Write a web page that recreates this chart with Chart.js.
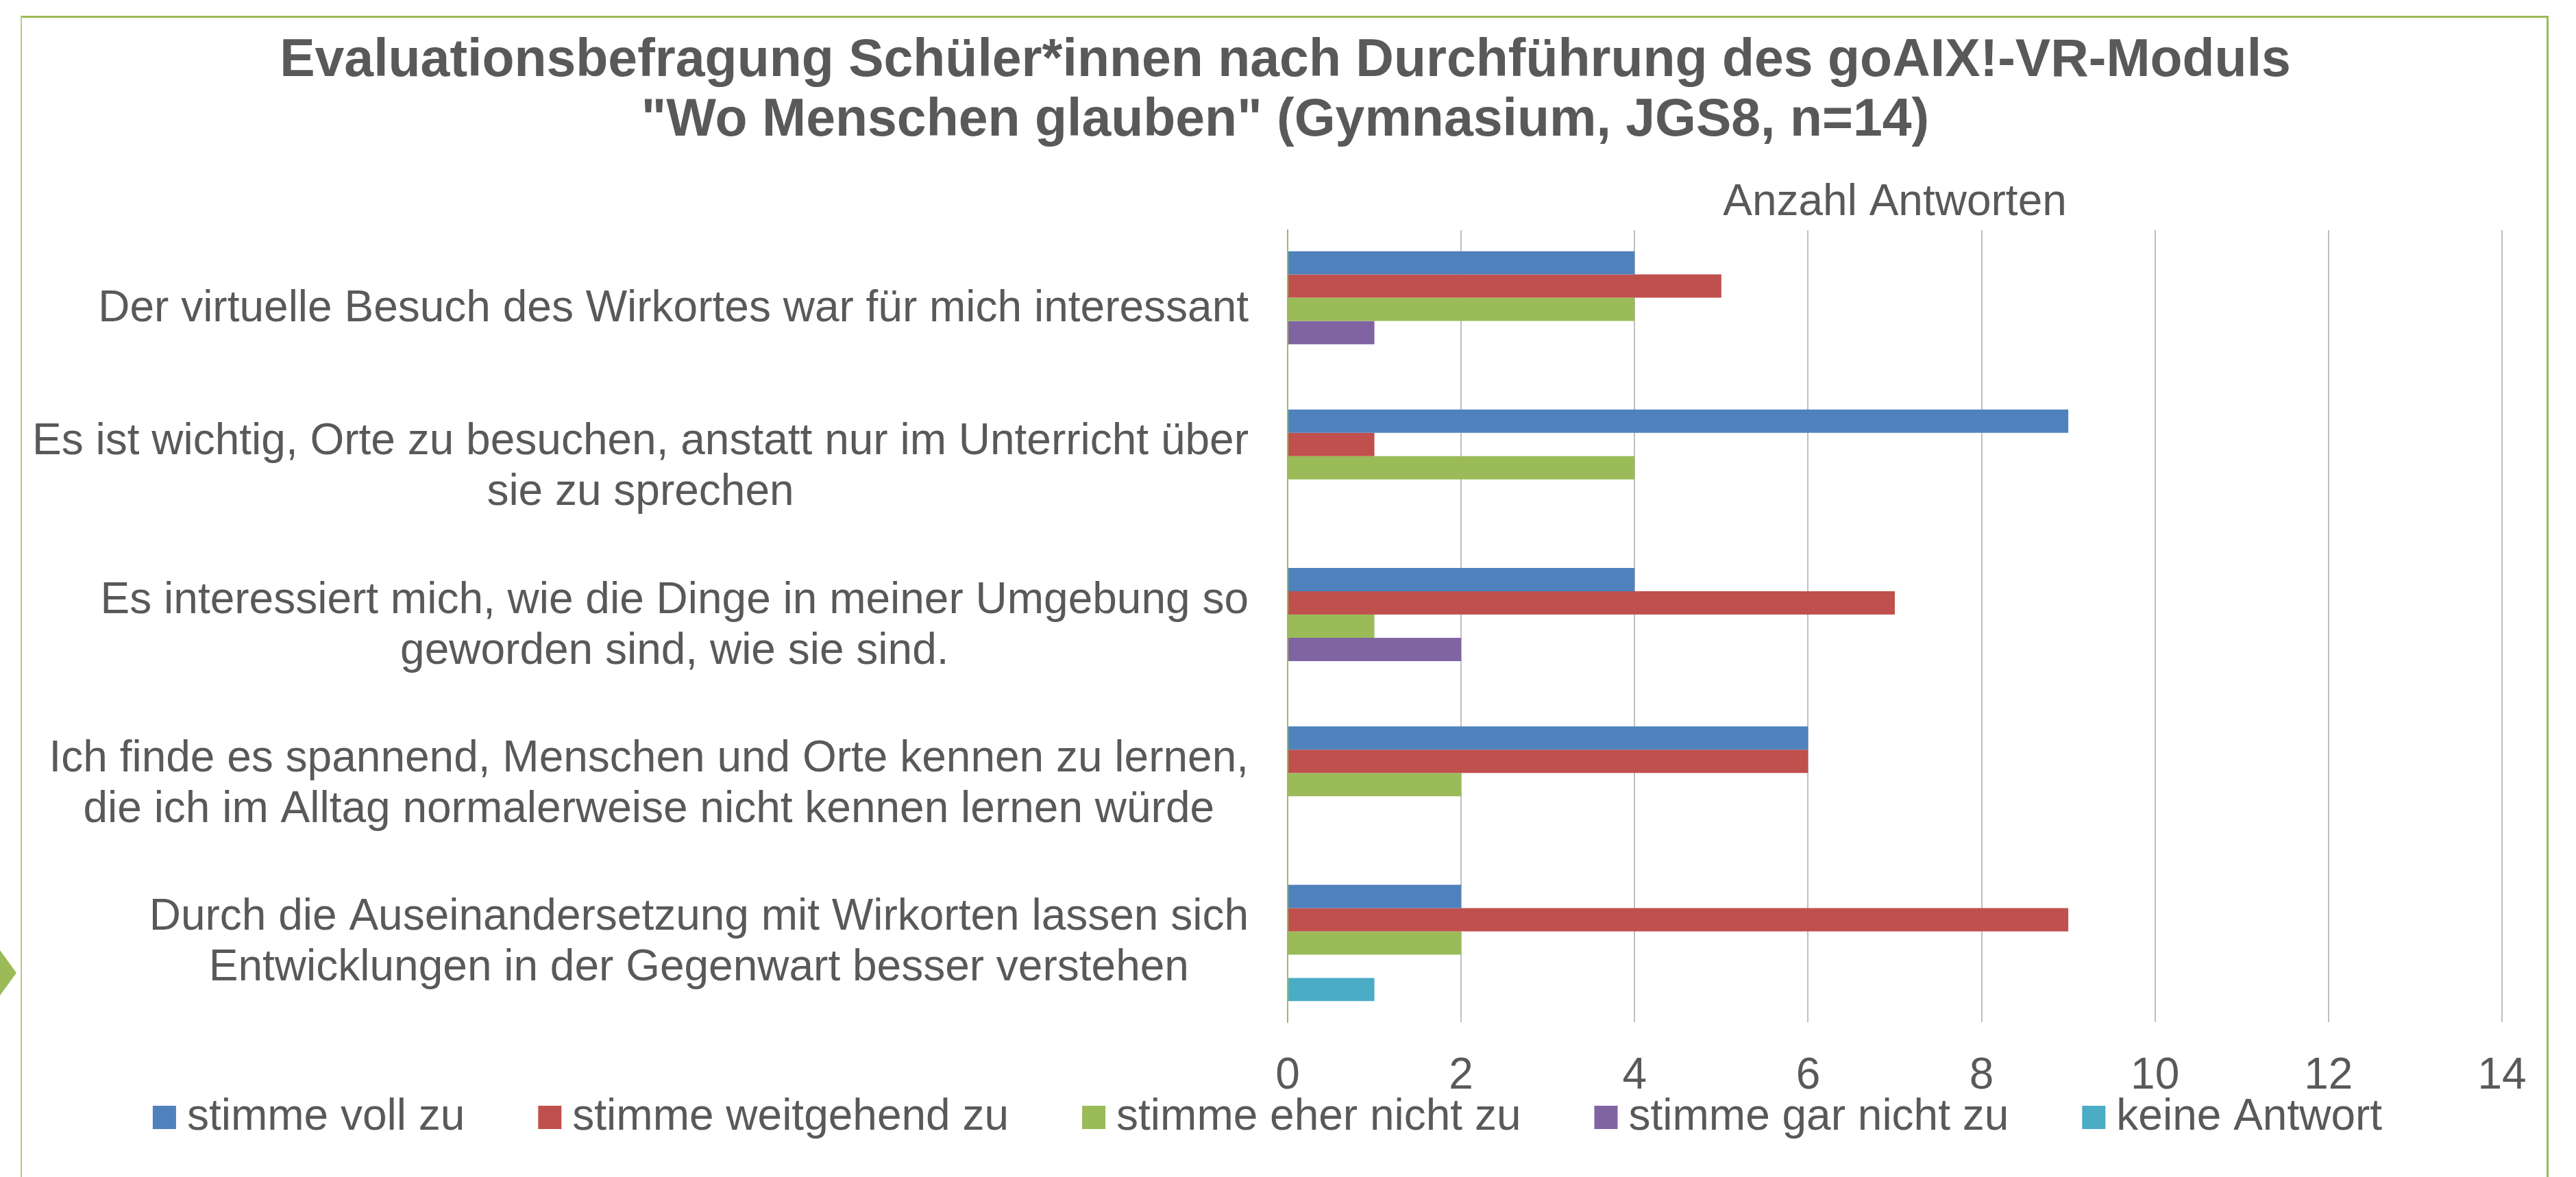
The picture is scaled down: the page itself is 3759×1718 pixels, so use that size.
<!DOCTYPE html>
<html>
<head>
<meta charset="utf-8">
<script src="https://cdn.jsdelivr.net/npm/chart.js@4.4.1/dist/chart.umd.min.js"></script>
<style>
html,body{margin:0;padding:0;background:#fff;}
body{width:3759px;height:1718px;position:relative;overflow:hidden;}
#frameTop{position:absolute;left:30px;top:23px;width:3689px;height:3px;background:#9BBB59;}
#frameLeft{position:absolute;left:30px;top:24px;width:2px;height:1694px;background:#B5CC86;}
#frameRight{position:absolute;left:3716px;top:23px;width:3px;height:1695px;background:#9BBB59;}
#arrow{position:absolute;left:0;top:1387px;width:24px;height:66px;background:#9BBB59;clip-path:polygon(0 0,100% 50%,0 100%);}
canvas{position:absolute;left:0;top:0;}
</style>
</head>
<body>
<div id="frameTop"></div>
<div id="frameLeft"></div>
<div id="frameRight"></div>
<div id="arrow"></div>
<canvas id="c" width="3759" height="1718"></canvas>
<script>
// ---- data ----
const titleLines = [
  "Evaluationsbefragung Schüler*innen nach Durchführung des goAIX!-VR-Moduls",
  "\"Wo Menschen glauben\" (Gymnasium, JGS8, n=14)"
];
const axisTitle = "Anzahl Antworten";
const categories = [
  ["Der virtuelle Besuch des Wirkortes war für mich interessant"],
  ["Es ist wichtig, Orte zu besuchen, anstatt nur im Unterricht über", "sie zu sprechen"],
  ["Es interessiert mich, wie die Dinge in meiner Umgebung so", "geworden sind, wie sie sind."],
  ["Ich finde es spannend, Menschen und Orte kennen zu lernen,", "die ich im Alltag normalerweise nicht kennen lernen würde"],
  ["Durch die Auseinandersetzung mit Wirkorten lassen sich", "Entwicklungen in der Gegenwart besser verstehen"]
];
const seriesNames = ["stimme voll zu", "stimme weitgehend zu", "stimme eher nicht zu", "stimme gar nicht zu", "keine Antwort"];
const stimmeVollZu       = [4, 9, 4, 6, 2];
const stimmeWeitgehendZu = [5, 1, 7, 6, 9];
const stimmeEherNichtZu  = [4, 4, 1, 2, 2];
const stimmeGarNichtZu   = [1, 0, 2, 0, 0];
const keineAntwort       = [0, 0, 0, 0, 1];
const xTicks = [0, 2, 4, 6, 8, 10, 12, 14];
const seriesColors = ["#4F81BD", "#C0504D", "#9BBB59", "#8064A2", "#4BACC6"];

// ---- chart ----
const FONT = '"Liberation Sans", Arial, sans-serif';
Chart.defaults.font.family = FONT;
Chart.defaults.color = '#595959';

const seriesData = [stimmeVollZu, stimmeWeitgehendZu, stimmeEherNichtZu, stimmeGarNichtZu, keineAntwort];

const catLabelPlugin = {
  id: 'catLabels',
  afterDraw(chart) {
    const ys = chart.scales.y;
    const ctx = chart.ctx;
    ctx.save();
    ctx.font = '64px ' + FONT;
    ctx.fillStyle = '#595959';
    ctx.textAlign = 'center';
    ctx.textBaseline = 'middle';
    const lh = 74;
    categories.forEach((lines, i) => {
      const py = ys.getPixelForTick(i);
      const w = Math.max(...lines.map(l => ctx.measureText(l).width));
      const right = ys.right - 57;
      const cx = right - w / 2;
      lines.forEach((l, j) => {
        ctx.fillText(l, cx, py + (j - (lines.length - 1) / 2) * lh);
      });
    });
    ctx.restore();
  }
};

// legend sits slightly higher than its layout slot; the x scale's label area is extended below its slot
const layoutTweak = {
  id: 'layoutTweak',
  afterLayout(chart) {
    const l = chart.legend;
    if (l) { l.top -= 45; l.bottom -= 45; l.left -= 18; l.right -= 18; }
    const xs = chart.scales.x;
    xs.bottom = xs.top + 130;
    xs.height = 130;
  }
};

new Chart(document.getElementById('c'), {
  type: 'bar',
  data: {
    labels: categories,
    datasets: seriesNames.map((name, k) => ({
      label: name,
      data: seriesData[k],
      backgroundColor: seriesColors[k],
      borderWidth: 0,
      categoryPercentage: 0.735,
      barPercentage: 1.0
    }))
  },
  options: {
    indexAxis: 'y',
    responsive: false,
    animation: false,
    devicePixelRatio: 1,
    layout: { padding: { left: 100, right: 108, top: 0, bottom: 0 } },
    plugins: {
      tooltip: { enabled: false },
      title: {
        display: true,
        text: titleLines,
        color: '#595959',
        font: { size: 77, weight: 'bold', lineHeight: '87px' },
        padding: { top: 46, bottom: 0 }
      },
      legend: {
        position: 'bottom',
        labels: {
          usePointStyle: true,
          pointStyle: 'rect',
          boxWidth: 2,
          boxHeight: 34,
          padding: 123,
          color: '#595959',
          font: { size: 64 }
        }
      }
    },
    scales: {
      x: {
        type: 'linear',
        position: 'bottom',
        min: 0,
        max: 14,
        afterBuildTicks: s => { s.ticks = xTicks.map(v => ({ value: v })); },
        afterFit: s => { s.height = 29; },
        ticks: { color: '#595959', font: { size: 64 }, padding: 41 },
        grid: {
          drawTicks: false,
          lineWidth: 2,
          color: ctx => (ctx.tick && ctx.tick.value === 0) ? 'rgba(0,0,0,0)' : '#BFBFBF'
        },
        border: { display: false }
      },
      x2: {
        type: 'linear',
        position: 'top',
        min: 0,
        max: 14,
        afterFit: s => { s.height = 116; },
        ticks: { display: false },
        grid: { display: false, drawTicks: false },
        border: { display: false },
        title: {
          display: true,
          text: axisTitle,
          color: '#595959',
          font: { size: 64 },
          padding: { top: 38, bottom: 0 }
        }
      },
      y: {
        type: 'category',
        position: 'left',
        afterFit: s => { s.width = 1779; },
        ticks: { display: false },
        grid: { display: false, drawTicks: false },
        border: { display: true, color: '#9BBB59', width: 2, z: 1 }
      }
    }
  },
  plugins: [catLabelPlugin, layoutTweak]
});
</script>
</body>
</html>
